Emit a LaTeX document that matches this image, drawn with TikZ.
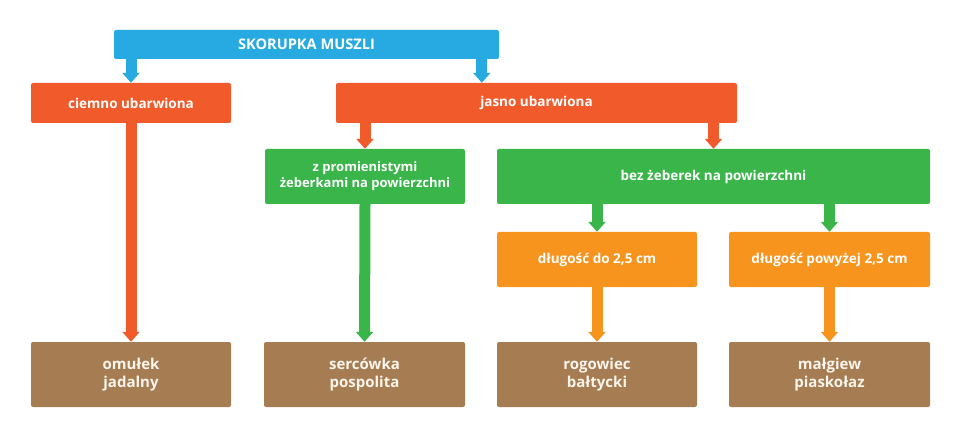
\documentclass[tikz,border=0pt]{standalone}
\usepackage{fontspec}
\setmainfont{Open Sans}
\usetikzlibrary{arrows.meta}
\definecolor{cblue}{HTML}{27AAE1}
\definecolor{cred}{HTML}{F15A2B}
\definecolor{cgreen}{HTML}{39B54A}
\definecolor{corange}{HTML}{F7941E}
\definecolor{cbrown}{HTML}{A67C52}
\definecolor{ccream}{HTML}{FBF5EC}
\tikzset{
  box/.style={rectangle, rounded corners=2pt, inner sep=0pt, text=white,
    font=\fontsize{13.5}{16}\selectfont\bfseries, align=center},
  bbox/.style={box, fill=cbrown, text=ccream, font=\fontsize{15}{18}\selectfont\bfseries},
  arr/.style={line width=11pt, -{Triangle[length=10pt,width=17pt]}},
}
\begin{document}
\begin{tikzpicture}[x=1pt,y=-1pt]
\useasboundingbox (0,0) rectangle (960,438);
\node[box, fill=cblue, minimum width=385pt, minimum height=29pt, font=\fontsize{14.6}{16}\selectfont\bfseries] (top) at (306.5,44.5) {SKORUPKA MUSZLI};
\node[box, fill=cred, minimum width=200pt, minimum height=40pt] (ciemno) at (131,103) {ciemno ubarwiona};
\node[box, fill=cred, minimum width=401pt, minimum height=40pt] (jasno) at (536.5,103) {jasno ubarwiona};
\node[box, fill=cgreen, minimum width=200pt, minimum height=55pt, font=\fontsize{13}{16}\selectfont\bfseries] (zprom) at (365,176.5) {z promienistymi\\żeberkami na powierzchni};
\node[box, fill=cgreen, minimum width=433pt, minimum height=55pt] (bez) at (713.5,176.5) {bez żeberek na powierzchni};
\node[box, fill=corange, minimum width=200pt, minimum height=55pt] (dl1) at (597,259.5) {długość do 2,5 cm};
\node[box, fill=corange, minimum width=201pt, minimum height=55pt] (dl2) at (829.5,259.5) {długość powyżej 2,5 cm};
\node[bbox, minimum width=200pt, minimum height=65pt] (b1) at (131,374.5) {omułek\\jadalny};
\node[bbox, minimum width=201pt, minimum height=65pt] (b2) at (364.5,374.5) {sercówka\\pospolita};
\node[bbox, minimum width=200pt, minimum height=65pt] (b3) at (597,374.5) {rogowiec\\bałtycki};
\node[bbox, minimum width=201pt, minimum height=65pt] (b4) at (829.5,374.5) {małgiew\\piaskołaz};
% arrows
\draw[arr, cblue] (ciemno.north |- top.south) -- (ciemno.north);
\draw[arr, cblue] ([xshift=146pt]jasno.north west |- top.south) -- ([xshift=146pt]jasno.north west);
\draw[arr, cred] (ciemno.south) -- (b1.north);
\draw[arr, cred] (zprom.north |- jasno.south) -- (zprom.north);
\draw[arr, cred] (bez.north |- jasno.south) -- (bez.north);
\draw[arr, cgreen] (zprom.south) -- (b2.north);
\draw[arr, cgreen] (dl1.north |- bez.south) -- (dl1.north);
\draw[arr, cgreen] (dl2.north |- bez.south) -- (dl2.north);
\draw[arr, corange] (dl1.south) -- (b3.north);
\draw[arr, corange] (dl2.south) -- (b4.north);
\end{tikzpicture}
\end{document}
